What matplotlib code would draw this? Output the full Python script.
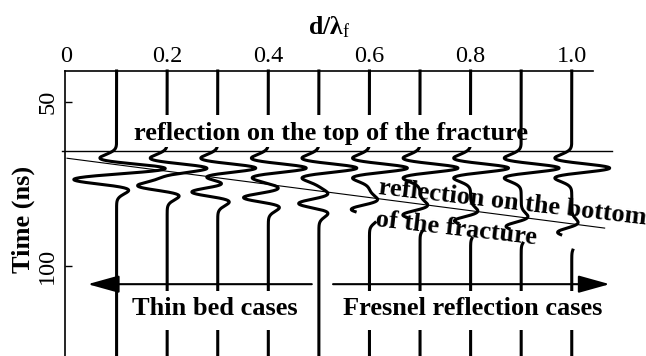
import numpy as np
import matplotlib
matplotlib.use('Agg')
import matplotlib.pyplot as plt
from matplotlib.patches import Rectangle

plt.rcParams['font.family'] = 'Liberation Serif'
plt.rcParams['mathtext.fontset'] = 'custom'
plt.rcParams['mathtext.rm'] = 'Liberation Serif'
plt.rcParams['mathtext.bf'] = 'Liberation Serif:bold'
plt.rcParams['mathtext.it'] = 'Liberation Serif:italic'

nan = np.nan

# fracture thickness (d / lambda_f) of each trace
d_ratio = [0.1, 0.2, 0.3, 0.4, 0.5, 0.6, 0.7, 0.8, 0.9, 1.0]
# peak time (ns) of the top reflection and of the bottom reflection
t_top = 70.2
t_bottom = [73.9, 75.7, 77.5, 79.2, 81.0, 82.8, 84.5, 86.3, 88.0, 89.8]
# wiggle amplitudes, in d/lambda_f units
amp_top = 0.075
amp_bottom = [0.055, 0.053, 0.051, 0.049, 0.040, 0.036, 0.034, 0.032, 0.030, 0.028]
# piece of trace missing below the bottom reflection (ns)
gap_from = [nan, nan, nan, nan, nan, 83.5, 85.2, 87.0, 88.7, 90.5]
gap_to = [nan, nan, nan, nan, nan, 86.8, 89.1, 91.6, 93.1, 95.2]
f_peak = 0.128  # GHz

# guide lines
top_line_d = [-0.008, 1.08]
top_line_t = [65.0, 65.0]
bottom_line_d = [0.002, 1.065]
bottom_line_t = [67.2, 88.5]

xticks = [0, 0.2, 0.4, 0.6, 0.8, 1.0]
xtick_labels = ['0', '0.2', '0.4', '0.6', '0.8', '1.0']
yticks = [50, 100]
t_range = (40.6, 127.5)


def ricker(t, t0):
    a = (np.pi * f_peak * (t - t0)) ** 2
    return (1 - 2 * a) * np.exp(-a)


fig = plt.figure(figsize=(6.46, 3.56), dpi=100)
ax = fig.add_axes([65 / 646, 0, 528 / 646, 285 / 356])
ax.set_xlim(-0.002, 1.042)
ax.set_ylim(t_range[1], t_range[0])

t = np.linspace(t_range[0], t_range[1], 3000)
for i, d in enumerate(d_ratio):
    x = d + amp_top * ricker(t, t_top) - amp_bottom[i] * ricker(t, t_bottom[i])
    if not np.isnan(gap_from[i]):
        x[(t > gap_from[i]) & (t < gap_to[i])] = nan
    ax.plot(x, t, color='k', lw=2.2, clip_on=False, zorder=2)

ax.plot(top_line_d, top_line_t, color='k', lw=1.0, clip_on=False, zorder=2)
ax.plot(bottom_line_d, bottom_line_t, color='k', lw=0.8, clip_on=False, zorder=2)

# white boxes behind the labels
for (x0, x1, y0, y1) in [(0.126, 0.887, 54.1, 63.8),
                         (0.12, 0.47, 107.6, 119.6),
                         (0.54, 1.07, 107.6, 119.6)]:
    ax.add_patch(Rectangle((x0, y0), x1 - x0, y1 - y0, fc='white', ec='none',
                           zorder=3, clip_on=False))

bold = dict(fontsize=19, fontweight='bold', zorder=5)
ax.text(0.524, 61.7, 'reflection on the top of the fracture', ha='center',
        va='baseline', **bold)
ax.text(0.294, 115.0, 'Thin bed cases', ha='center', va='baseline', **bold)
ax.text(0.804, 115.0, 'Fresnel reflection cases', ha='center', va='baseline', **bold)
ax.text(0.617, 78.1, 'reflection on the bottom', ha='left', va='baseline',
        rotation=-6.5, rotation_mode='anchor', clip_on=False, **bold)
ax.text(0.611, 87.9, 'of the fracture', ha='left', va='baseline',
        rotation=-6.5, rotation_mode='anchor', clip_on=False, **bold)

arrow = dict(arrowstyle='-|>,head_length=0.97,head_width=0.27', mutation_scale=20,
             lw=1.5, color='k', shrinkA=0, shrinkB=0)
ax.annotate('', xy=(0.043, 105.6), xytext=(0.486, 105.6), arrowprops=arrow,
            annotation_clip=False, zorder=4)
ax.annotate('', xy=(1.075, 105.6), xytext=(0.528, 105.6), arrowprops=arrow,
            annotation_clip=False, zorder=4)

ax.xaxis.tick_top()
ax.set_xticks(xticks)
ax.set_xticklabels(xtick_labels)
ax.set_yticks(yticks)
ax.set_yticklabels([str(v) for v in yticks], rotation=90, va='center')
ax.tick_params(axis='x', length=0, pad=3, labelsize=17.5)
ax.tick_params(axis='y', direction='in', length=5, width=1, pad=5, labelsize=17.5)
for side in ['right', 'bottom']:
    ax.spines[side].set_visible(False)
for side in ['top', 'left']:
    ax.spines[side].set_linewidth(1.2)

fig.text(329 / 646, 1 - 27 / 356, r'$\mathbf{d/\lambda}_{\mathrm{f}}$', fontsize=18.5,
         ha='center', va='center')
fig.text(23 / 646, 1 - 219 / 356, 'Time (ns)', rotation=90, ha='center', va='center',
         fontsize=19, fontweight='bold')

fig.savefig('out.png', dpi=100)
